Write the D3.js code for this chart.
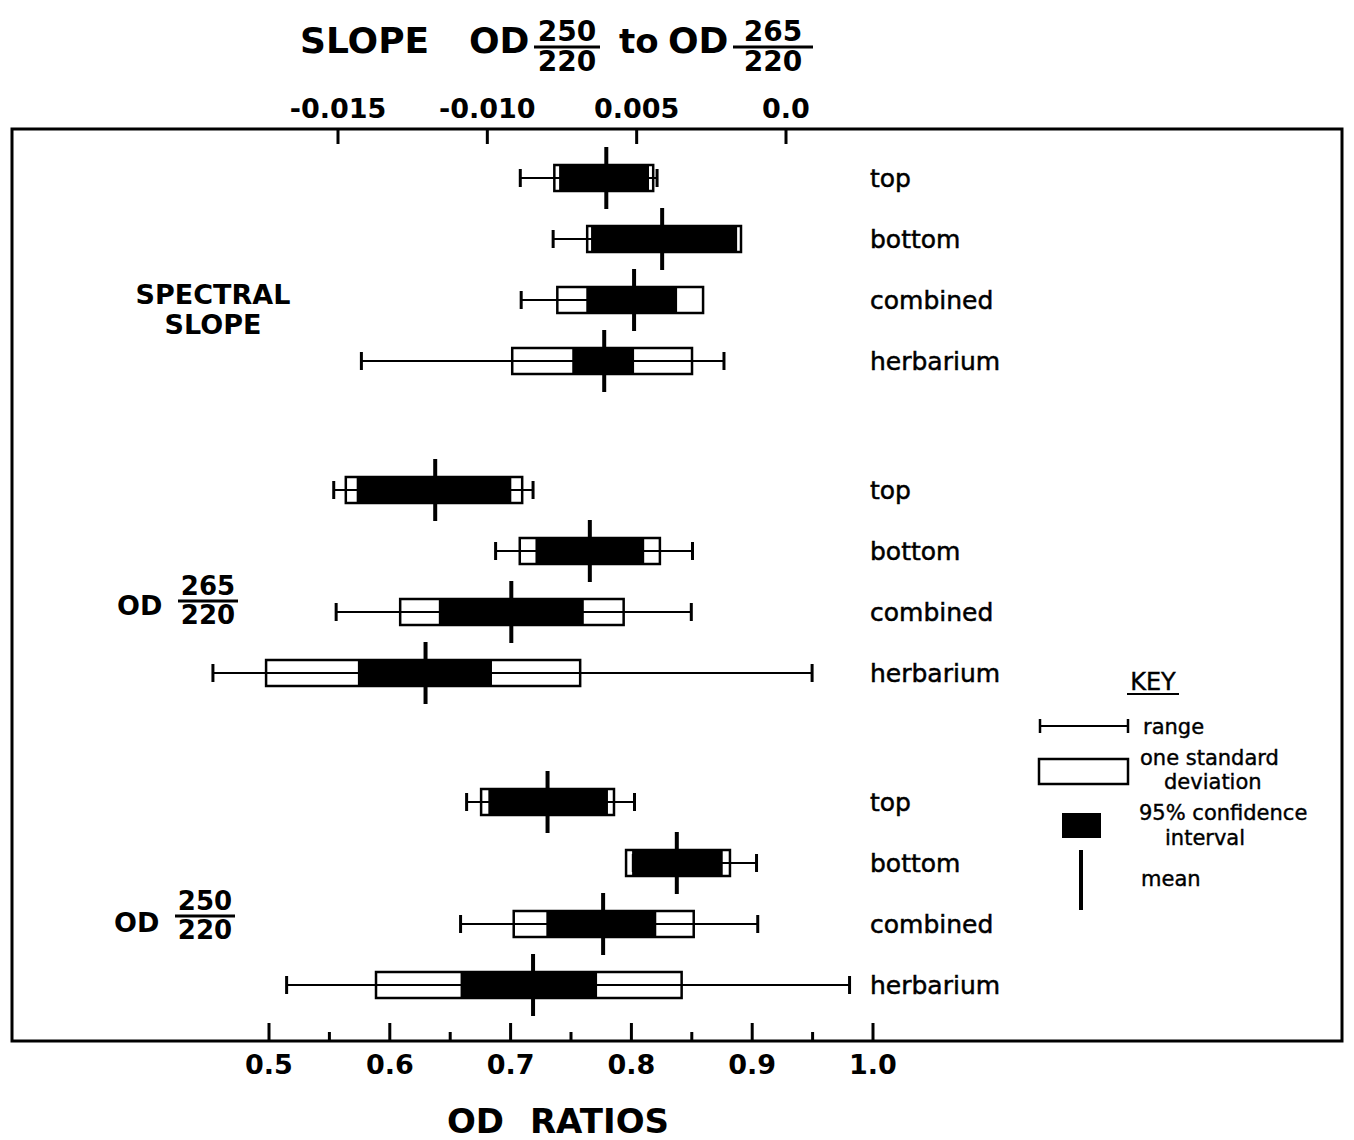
<!DOCTYPE html>
<meta charset="utf-8">

<script src="https://d3js.org/d3.v7.min.js"></script>

<style type="text/css">

body {
  margin: 0;
  background: #fff;
}

svg text {
  font-family: "DejaVu Sans", sans-serif;
  fill: #000;
}

.axis text {
  font-size: 27px;
  font-weight: bold;
}

.axis line {
  stroke: #000;
  stroke-width: 3px;
}

.axis path {
  display: none;
}

.rowLabel {
  font-size: 25px;
  stroke: #000;
  stroke-width: 0.5px;
}

.key text {
  font-size: 21px;
  stroke: #000;
  stroke-width: 0.4px;
}

</style>

<body>
</body>

<script>

// groups of rows, top to bottom
var groups = ["spectral", "od265", "od250"];
var rows = ["top", "bottom", "combined", "herbarium"];

// values, 4 rows per group (spectral slope, OD 265/220, OD 250/220)
var rangeMin = [-0.00888, -0.00778, -0.00885, -0.01420,
                0.554, 0.688, 0.556, 0.454,
                0.664, 0.802, 0.659, 0.515];
var rangeMax = [-0.00430, -0.00380, -0.00373, -0.00206,
                0.719, 0.851, 0.850, 0.950,
                0.803, 0.904, 0.905, 0.981];
var sdLow    = [-0.00774, -0.00664, -0.00764, -0.00915,
                0.564, 0.708, 0.609, 0.498,
                0.676, 0.796, 0.703, 0.589];
var sdHigh   = [-0.00443, -0.00149, -0.00276, -0.00313,
                0.710, 0.824, 0.794, 0.758,
                0.786, 0.882, 0.852, 0.842];
var ciLow    = [-0.00758, -0.00651, -0.00667, -0.00714,
                0.573, 0.721, 0.641, 0.574,
                0.682, 0.801, 0.730, 0.659];
var ciHigh   = [-0.00457, -0.00162, -0.00363, -0.00507,
                0.701, 0.811, 0.761, 0.685,
                0.781, 0.876, 0.821, 0.772];
var means    = [-0.00600, -0.00413, -0.00507, -0.00607,
                0.638, 0.766, 0.701, 0.630,
                0.731, 0.838, 0.777, 0.719];

// axis ticks
var slopeTicks = [-0.015, -0.010, -0.005, 0.0];
var slopeTickLabels = ["-0.015", "-0.010", "0.005", "0.0"];
var odTicks = [0.5, 0.6, 0.7, 0.8, 0.9, 1.0];
var odMinorTicks = [0.55, 0.65, 0.75, 0.85, 0.95];

var width = 1354, height = 1140;
var frame = {left: 12, right: 1342, top: 129, bottom: 1041};

var svg = d3.select("body").append("svg")
    .attr("width", width)
    .attr("height", height);

var slopeX = d3.scaleLinear().domain([-0.015, 0]).range([337.5, 785.5]);
var odX = d3.scaleLinear().domain([0.5, 1.0]).range([268.5, 872.5]);

var groupY = d3.scalePoint().domain(groups).range([178, 802]);
var rowY = d3.scalePoint().domain(rows).range([0, 183]);

// frame
svg.append("rect")
    .attr("x", frame.left)
    .attr("y", frame.top)
    .attr("width", frame.right - frame.left)
    .attr("height", frame.bottom - frame.top)
    .style("fill", "none")
    .style("stroke", "#000")
    .style("stroke-width", 3);

// top axis (slope), ticks pointing in
svg.append("g")
    .attr("class", "axis")
    .attr("transform", "translate(0," + frame.top + ")")
    .call(d3.axisTop(slopeX)
      .tickValues(slopeTicks)
      .tickFormat(function(d, i) { return slopeTickLabels[i]; })
      .tickSizeInner(-15)
      .tickSizeOuter(0)
      .tickPadding(11));

// bottom axis (OD ratios)
svg.append("g")
    .attr("class", "axis")
    .attr("transform", "translate(0," + frame.bottom + ")")
    .call(d3.axisBottom(odX)
      .tickValues(odTicks)
      .tickFormat(d3.format(".1f"))
      .tickSizeInner(-18)
      .tickSizeOuter(0)
      .tickPadding(14));

svg.append("g")
    .attr("class", "axis")
    .attr("transform", "translate(0," + frame.bottom + ")")
    .call(d3.axisBottom(odX)
      .tickValues(odMinorTicks)
      .tickFormat("")
      .tickSizeInner(-9)
      .tickSizeOuter(0));

// build row records from the arrays
var data = [];
groups.forEach(function(g, gi) {
  rows.forEach(function(r, ri) {
    var i = gi * rows.length + ri;
    data.push({
      group: g, row: r,
      x: g == "spectral" ? slopeX : odX,
      y: groupY(g) + rowY(r),
      rmin: rangeMin[i], rmax: rangeMax[i],
      sdlo: sdLow[i], sdhi: sdHigh[i],
      cilo: ciLow[i], cihi: ciHigh[i],
      mean: means[i]
    });
  });
});

var boxH = 26, tickH = 18, meanH = 62;

var rowGroup = svg.selectAll(".rowGroup")
    .data(data).enter().append("g")
    .attr("class", "rowGroup");

// one standard deviation
rowGroup.append("rect")
    .attr("x", function(d) { return d.x(d.sdlo); })
    .attr("y", function(d) { return d.y - boxH / 2; })
    .attr("width", function(d) { return d.x(d.sdhi) - d.x(d.sdlo); })
    .attr("height", boxH)
    .style("fill", "#fff")
    .style("stroke", "#000")
    .style("stroke-width", 2.5);

// range line
rowGroup.append("line")
    .attr("x1", function(d) { return d.x(d.rmin); })
    .attr("x2", function(d) { return d.x(d.rmax); })
    .attr("y1", function(d) { return d.y; })
    .attr("y2", function(d) { return d.y; })
    .style("stroke", "#000")
    .style("stroke-width", 2);

// 95% confidence interval
rowGroup.append("rect")
    .attr("x", function(d) { return d.x(d.cilo); })
    .attr("y", function(d) { return d.y - boxH / 2; })
    .attr("width", function(d) { return d.x(d.cihi) - d.x(d.cilo); })
    .attr("height", boxH)
    .style("fill", "#000");

// range end ticks
["rmin", "rmax"].forEach(function(k) {
  rowGroup.append("line")
    .attr("x1", function(d) { return d.x(d[k]); })
    .attr("x2", function(d) { return d.x(d[k]); })
    .attr("y1", function(d) { return d.y - tickH / 2; })
    .attr("y2", function(d) { return d.y + tickH / 2; })
    .style("stroke", "#000")
    .style("stroke-width", 3);
});

// mean
rowGroup.append("line")
    .attr("x1", function(d) { return d.x(d.mean); })
    .attr("x2", function(d) { return d.x(d.mean); })
    .attr("y1", function(d) { return d.y - meanH / 2; })
    .attr("y2", function(d) { return d.y + meanH / 2; })
    .style("stroke", "#000")
    .style("stroke-width", 4);

rowGroup.append("text")
    .attr("class", "rowLabel")
    .attr("x", 870)
    .attr("y", function(d) { return d.y; })
    .attr("dy", "0.35em")
    .text(function(d) { return d.row; });

// fraction helper: numerator over a bar over denominator
function fraction(cx, yBar, num, den, size, halfW) {
  var f = svg.append("g");
  f.append("text")
    .attr("x", cx).attr("y", yBar - 6)
    .attr("text-anchor", "middle")
    .style("font-size", size + "px")
    .style("font-weight", "bold")
    .text(num);
  f.append("line")
    .attr("x1", cx - halfW).attr("x2", cx + halfW)
    .attr("y1", yBar).attr("y2", yBar)
    .style("stroke", "#000")
    .style("stroke-width", 3);
  f.append("text")
    .attr("x", cx).attr("y", yBar + 4 + size * 0.73)
    .attr("text-anchor", "middle")
    .style("font-size", size + "px")
    .style("font-weight", "bold")
    .text(den);
}

function label(x, y, str, size, anchor) {
  svg.append("text")
    .attr("x", x).attr("y", y)
    .attr("text-anchor", anchor || "start")
    .style("font-size", size + "px")
    .style("font-weight", "bold")
    .text(str);
}

// title
label(300, 53, "SLOPE", 36);
label(469, 53, "OD", 36);
fraction(567, 47, "250", "220", 28, 33);
label(619, 53, "to", 34);
label(668, 53, "OD", 36);
fraction(773, 47, "265", "220", 28, 40);

// x title
svg.append("text")
    .attr("x", 558).attr("y", 1133)
    .attr("text-anchor", "middle")
    .style("font-size", "34px")
    .style("font-weight", "bold")
    .style("word-spacing", "14px")
    .text("OD RATIOS");

// group labels
var gy = function(g) { return groupY(g); };
label(213, gy("spectral") + 126, "SPECTRAL", 27, "middle");
label(213, gy("spectral") + 156, "SLOPE", 27, "middle");
label(117, gy("od265") + 125, "OD", 27);
fraction(208, gy("od265") + 111, "265", "220", 26, 30);
label(114, gy("od250") + 130, "OD", 27);
fraction(205, gy("od250") + 114, "250", "220", 26, 30);

// key
var key = svg.append("g").attr("class", "key");
key.append("text").attr("x", 1153).attr("y", 690)
    .attr("text-anchor", "middle").style("font-size", "24px").text("KEY");
key.append("line").attr("x1", 1127).attr("x2", 1179).attr("y1", 694).attr("y2", 694)
    .style("stroke", "#000").style("stroke-width", 2);

key.append("line").attr("x1", 1040).attr("x2", 1128).attr("y1", 726).attr("y2", 726)
    .style("stroke", "#000").style("stroke-width", 2);
[1040, 1128].forEach(function(x) {
  key.append("line").attr("x1", x).attr("x2", x).attr("y1", 719).attr("y2", 733)
    .style("stroke", "#000").style("stroke-width", 2.5);
});
key.append("text").attr("x", 1143).attr("y", 734).text("range");

key.append("rect").attr("x", 1039).attr("y", 759).attr("width", 89).attr("height", 25)
    .style("fill", "#fff").style("stroke", "#000").style("stroke-width", 2.5);
key.append("text").attr("x", 1140).attr("y", 765).text("one standard");
key.append("text").attr("x", 1164).attr("y", 789).text("deviation");

key.append("rect").attr("x", 1062).attr("y", 813).attr("width", 39).attr("height", 25)
    .style("fill", "#000");
key.append("text").attr("x", 1139).attr("y", 820).text("95% confidence");
key.append("text").attr("x", 1165).attr("y", 845).text("interval");

key.append("line").attr("x1", 1081).attr("x2", 1081).attr("y1", 850).attr("y2", 910)
    .style("stroke", "#000").style("stroke-width", 4);
key.append("text").attr("x", 1141).attr("y", 886).text("mean");

</script>
